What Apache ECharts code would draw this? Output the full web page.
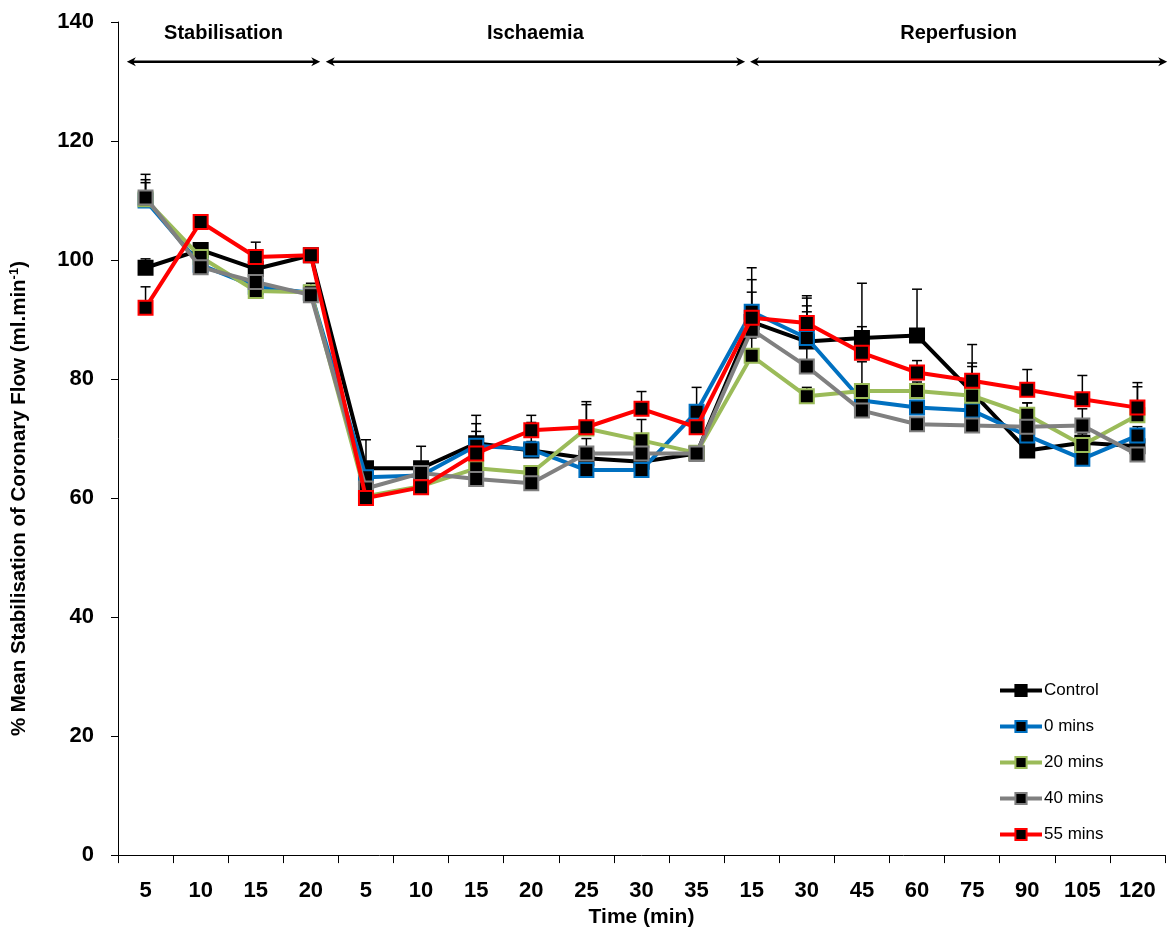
<!DOCTYPE html>
<html>
<head>
<meta charset="utf-8">
<script src="https://cdn.jsdelivr.net/npm/echarts@6/dist/echarts.min.js"></script>
<style>html,body{margin:0;padding:0;background:#fff;}#chart{width:1171px;height:933px;}</style>
</head>
<body>
<div id="chart"></div>
<script>
const categories = ['5','10','15','20','5','10','15','20','25','30','35','15','30','45','60','75','90','105','120'];

const seriesNames = ['Control','0 mins','20 mins','40 mins','55 mins'];
const seriesColors = ['#000000','#0070C0','#9BBB59','#808080','#FF0000'];

const control = [98.7,101.7,98.5,100.8, 65.0,65.0,69.2,68.0,66.7,66.1,67.5, 89.6,86.3,86.9,87.3,77.8,68.0,69.3,68.7];
const mins0   = [110.0,99.2,95.5,94.5, 63.5,63.8,68.8,68.2,64.7,64.7,74.5, 91.3,86.9,76.4,75.2,74.7,70.5,66.6,70.5];
const mins20  = [110.2,100.5,94.8,94.6, 60.3,62.0,65.0,64.2,71.7,69.7,67.6, 83.9,77.1,78.0,78.0,77.2,74.0,68.9,73.9];
const mins40  = [110.5,98.8,96.3,94.1, 61.6,64.2,63.2,62.5,67.5,67.5,67.5, 88.3,82.1,74.7,72.4,72.2,72.0,72.2,67.3];
const mins55  = [92.0,106.4,100.5,100.8, 60.0,61.8,67.5,71.4,71.9,75.0,71.9, 90.3,89.4,84.4,81.1,79.7,78.2,76.6,75.2];

const errControl = [1.5,1.0,1.5,1.0, 4.8,3.7,4.7,1.5,3.3,1.5,1.0, 7.1,6.0,9.2,7.8,4.9,1.5,1.5,1.5];
const err0       = [3.0,1.0,1.0,1.0, 1.0,1.0,3.7,4.5,1.0,1.0,4.1, 7.4,6.7,1.5,1.0,1.0,1.5,1.0,1.5];
const err20      = [3.3,1.0,1.0,1.0, 1.0,1.0,1.0,1.0,4.0,3.5,1.0, 3.0,1.5,4.9,1.5,4.9,2.0,1.0,4.8];
const err40      = [3.9,1.0,1.0,2.0, 1.0,1.0,1.0,1.0,1.0,1.0,1.0, 6.3,9.2,1.5,1.0,1.0,4.0,2.8,1.0];
const err55      = [3.5,1.0,2.5,1.0, 1.0,1.0,3.7,2.5,4.3,2.9,1.0, 2.0,4.6,4.4,2.0,6.1,3.4,4.0,4.2];

const yTicks = {min: 0, max: 140, interval: 20};

const phaseNames = ['Stabilisation','Ischaemia','Reperfusion'];
const phaseStart = [0.16, 3.77, 11.47];
const phaseEnd   = [3.67, 11.38, 19.04];
const phaseArrowLevel = 133.3;
const phaseLabelLevel = 138.0;

const allValues = [control, mins0, mins20, mins40, mins55];
const allErrors = [errControl, err0, err20, err40, err55];

const FONT = '"Liberation Sans", Arial, sans-serif';

const chart = echarts.init(document.getElementById('chart'), null, {renderer: 'canvas'});

const errData = [];
allValues.forEach((vals, s) => {
  vals.forEach((v, i) => errData.push([i, v, allErrors[s][i]]));
});

const phaseData = phaseNames.map((n, i) => [phaseStart[i], phaseEnd[i], phaseArrowLevel, phaseLabelLevel, i]);

const series = [];
series.push({
  type: 'custom',
  name: 'errors',
  xAxisIndex: 0, yAxisIndex: 0,
  z: 1,
  silent: true,
  data: errData,
  encode: {x: 0, y: 1},
  renderItem: function (params, api) {
    const i = api.value(0), v = api.value(1), e = api.value(2);
    const p0 = api.coord([i, v]);
    const p1 = api.coord([i, v + e]);
    const hw = 5;
    return {
      type: 'group',
      children: [
        {type: 'line', shape: {x1: p0[0], y1: p0[1], x2: p1[0], y2: p1[1]}, style: {stroke: '#000', lineWidth: 1.5}},
        {type: 'line', shape: {x1: p1[0] - hw, y1: p1[1], x2: p1[0] + hw, y2: p1[1]}, style: {stroke: '#000', lineWidth: 1.5}}
      ]
    };
  }
});

allValues.forEach((vals, s) => {
  series.push({
    type: 'line',
    name: seriesNames[s],
    data: vals,
    xAxisIndex: 0, yAxisIndex: 0,
    z: 2 + s,
    symbol: 'rect',
    symbolSize: 14,
    lineStyle: {color: seriesColors[s], width: 4},
    itemStyle: {color: '#000', borderColor: seriesColors[s], borderWidth: 2},
    emphasis: {disabled: true}
  });
});

series.push({
  type: 'custom',
  name: 'phases',
  xAxisIndex: 1, yAxisIndex: 0,
  z: 10,
  silent: true,
  data: phaseData,
  encode: {x: [0, 1], y: 2},
  renderItem: function (params, api) {
    const a = api.coord([api.value(0), api.value(2)]);
    const b = api.coord([api.value(1), api.value(2)]);
    const t = api.coord([(api.value(0) + api.value(1)) / 2, api.value(3)]);
    const name = phaseNames[api.value(4)];
    const L = 9, H = 4.5;
    return {
      type: 'group',
      children: [
        {type: 'line', shape: {x1: a[0] + 4, y1: a[1], x2: b[0] - 4, y2: b[1]}, style: {stroke: '#000', lineWidth: 2.5}},
        {type: 'polygon', shape: {points: [[a[0], a[1]], [a[0] + L, a[1] - H], [a[0] + L * 0.7, a[1]], [a[0] + L, a[1] + H]]}, style: {fill: '#000'}},
        {type: 'polygon', shape: {points: [[b[0], b[1]], [b[0] - L, b[1] - H], [b[0] - L * 0.7, b[1]], [b[0] - L, b[1] + H]]}, style: {fill: '#000'}},
        {type: 'text', style: {text: name, x: t[0], y: t[1], align: 'center', verticalAlign: 'middle', fill: '#000', font: 'bold 20px ' + FONT}}
      ]
    };
  }
});

const option = {
  animation: false,
  backgroundColor: '#fff',
  textStyle: {fontFamily: FONT},
  grid: {left: 118, right: 6, top: 22, bottom: 75, containLabel: false},
  legend: {
    orient: 'vertical',
    left: 998,
    top: 682,
    padding: 0,
    itemWidth: 42,
    itemHeight: 14,
    itemGap: 19,
    data: seriesNames,
    selectedMode: false,
    lineStyle: {width: 4},
    textStyle: {fontSize: 17, color: '#000', fontFamily: FONT, padding: [0, 0, 0, -3]}
  },
  xAxis: [{
    type: 'category',
    data: categories,
    boundaryGap: true,
    name: 'Time (min)',
    nameLocation: 'middle',
    nameGap: 49,
    nameTextStyle: {fontSize: 21, fontWeight: 'bold', color: '#000', fontFamily: FONT},
    axisLine: {lineStyle: {color: '#000', width: 1}},
    axisTick: {show: true, length: 8, alignWithLabel: false, lineStyle: {color: '#000'}},
    axisLabel: {interval: 0, fontSize: 22, fontWeight: 'bold', color: '#000', margin: 25, fontFamily: FONT},
    splitLine: {show: false}
  }, {
    type: 'value',
    min: 0,
    max: 19,
    show: false
  }],
  yAxis: {
    type: 'value',
    min: yTicks.min,
    max: yTicks.max,
    interval: yTicks.interval,
    name: '{n|% Mean Stabilisation of Coronary Flow (ml.min}{s|-1}{n|)}',
    nameLocation: 'middle',
    nameGap: 88,
    nameRotate: 90,
    nameTextStyle: {
      padding: [0, 120, 0, 0],
      rich: {
        n: {fontSize: 20.5, fontWeight: 'bold', color: '#000', fontFamily: FONT},
        s: {fontSize: 13, fontWeight: 'bold', color: '#000', fontFamily: FONT, verticalAlign: 'top', padding: [0, 0, 9, 0]}
      }
    },
    axisLine: {show: true, lineStyle: {color: '#000', width: 1}},
    axisTick: {show: true, length: 7, lineStyle: {color: '#000'}},
    axisLabel: {fontSize: 22, fontWeight: 'bold', color: '#000', margin: 24, fontFamily: FONT},
    splitLine: {show: false}
  },
  series: series
};

chart.setOption(option);
</script>
</body>
</html>
